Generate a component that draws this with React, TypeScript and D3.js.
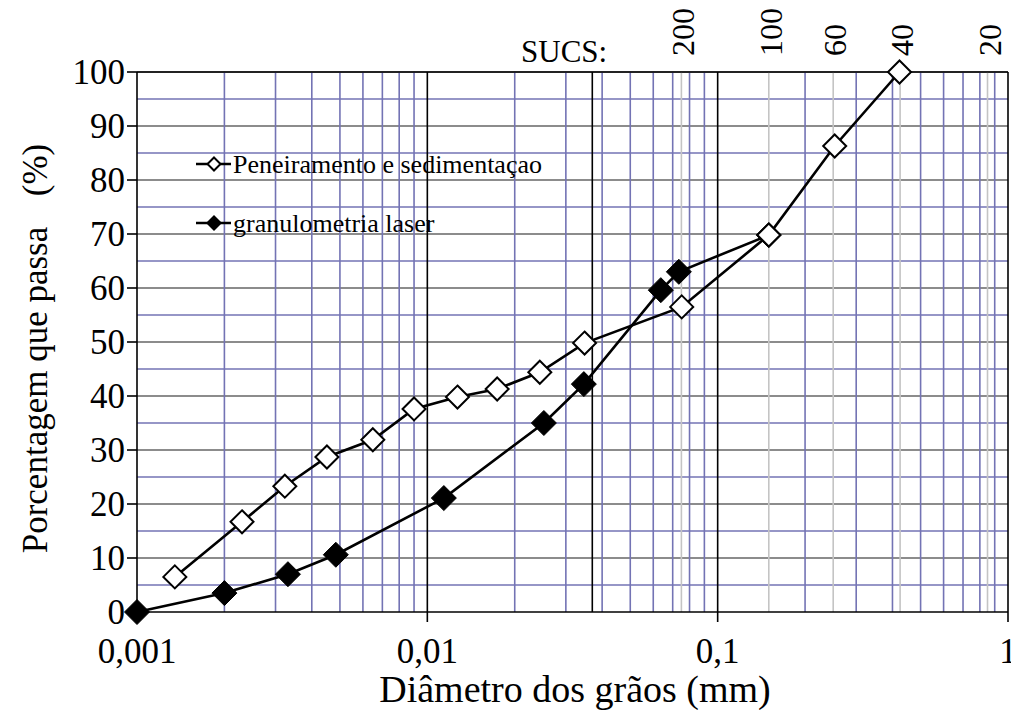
import React from "react";
import { scaleLog, scaleLinear, line, range } from "d3";

// Peneiramento e sedimentação (open diamonds)
const sievDiam = [0.00135, 0.0023, 0.00323, 0.00451, 0.00649, 0.009, 0.0127, 0.0174, 0.0244, 0.0348, 0.0752, 0.15, 0.253, 0.423];
const sievPass = [6.5, 16.7, 23.3, 28.7, 31.9, 37.6, 39.8, 41.3, 44.4, 49.8, 56.5, 69.8, 86.3, 100];

// granulometria laser (filled diamonds)
const laserDiam = [0.001, 0.002, 0.00331, 0.00484, 0.0114, 0.0252, 0.0346, 0.0637, 0.0735, 0.15];
const laserPass = [0, 3.5, 7.0, 10.6, 21.1, 35, 42.2, 59.6, 63, 69.8];

// SUCS sieves
const sieveNames = ["200", "100", "60", "40", "20"];
const sieveOpen = [0.075, 0.15, 0.25, 0.425, 0.85];

const xTicks = [0.001, 0.01, 0.1, 1];
const xTickLabels = ["0,001", "0,01", "0,1", "1"];
const yTicks = [0, 10, 20, 30, 40, 50, 60, 70, 80, 90, 100];
const boundary = [0.037];

const W = 1011;
const H = 710;
const left = 137;
const right = 1008;
const top = 72;
const bottom = 612;
const font = "'Liberation Serif', 'Times New Roman', serif";
const blue = "#7373b4";

export default function App() {
  const x = scaleLog().domain([0.001, 1]).range([left, right]);
  const y = scaleLinear().domain([0, 100]).range([bottom, top]);

  const minor: number[] = [];
  [0.001, 0.01, 0.1].forEach((d) => range(2, 10).forEach((m) => minor.push(d * m)));

  const sieveData = sievDiam.map((d, i) => ({ d, p: sievPass[i] }));
  const laserData = laserDiam.map((d, i) => ({ d, p: laserPass[i] }));
  const path = line<{ d: number; p: number }>()
    .x((v) => x(v.d))
    .y((v) => y(v.p));

  const diamond = (cx: number, cy: number, r: number) =>
    `M${cx},${cy - r}L${cx + r},${cy}L${cx},${cy + r}L${cx - r},${cy}Z`;

  return (
    <svg width={W} height={H} style={{ position: "absolute", left: 0, top: 0, background: "#fff" }}>
      {/* horizontal grid */}
      {range(5, 100, 10).map((v) => (
        <line key={"h5" + v} x1={left} x2={right} y1={y(v)} y2={y(v)} stroke={blue} strokeWidth={1.6} />
      ))}
      {yTicks.slice(1).map((v) => (
        <line key={"h10" + v} x1={left} x2={right} y1={y(v)} y2={y(v)} stroke="#666" strokeWidth={1.6} />
      ))}
      {/* vertical grid */}
      {minor.map((v) => (
        <line key={"v" + v} x1={x(v)} x2={x(v)} y1={top} y2={bottom} stroke={blue} strokeWidth={1.6} />
      ))}
      {sieveOpen.map((v) => (
        <line key={"s" + v} x1={x(v)} x2={x(v)} y1={top} y2={bottom} stroke="#c4c4c4" strokeWidth={1.6} />
      ))}
      {boundary.map((v) => (
        <line key={"b" + v} x1={x(v)} x2={x(v)} y1={top} y2={bottom} stroke="#000" strokeWidth={1.6} />
      ))}
      {xTicks.map((v) => (
        <line key={"xt" + v} x1={x(v)} x2={x(v)} y1={top} y2={bottom + 10} stroke="#000" strokeWidth={1.6} />
      ))}
      {yTicks.map((v) => (
        <line key={"yt" + v} x1={left - 10} x2={left} y1={y(v)} y2={y(v)} stroke="#000" strokeWidth={1.6} />
      ))}
      <line x1={left} x2={right} y1={top} y2={top} stroke="#000" strokeWidth={1.6} />
      <line x1={left} x2={right} y1={bottom} y2={bottom} stroke="#000" strokeWidth={1.6} />

      {/* tick labels */}
      {yTicks.map((v) => (
        <text key={"yl" + v} x={left - 12} y={y(v)} dy="0.35em" textAnchor="end" fontFamily={font} fontSize={35}>
          {v}
        </text>
      ))}
      {xTicks.map((v, i) => (
        <text key={"xl" + v} x={x(v)} y={bottom + 51} textAnchor="middle" fontFamily={font} fontSize={35}>
          {xTickLabels[i]}
        </text>
      ))}
      <text x={575} y={702} textAnchor="middle" fontFamily={font} fontSize={38}>
        Diâmetro dos grãos (mm)
      </text>
      <g transform="translate(47,390) rotate(-90)">
        <text x={0} y={0} textAnchor="middle" fontFamily={font} fontSize={35}>
          Porcentagem que passa
        </text>
      </g>
      <g transform="translate(47,170) rotate(-90)">
        <text x={0} y={0} textAnchor="middle" fontFamily={font} fontSize={35}>
          (%)
        </text>
      </g>

      {/* SUCS */}
      <text x={521} y={62} fontFamily={font} fontSize={31}>
        SUCS:
      </text>
      {sieveOpen.map((v, i) => (
        <g key={"sl" + v} transform={`translate(${x(v) + 13},56) rotate(-90)`}>
          <text x={0} y={0} fontFamily={font} fontSize={32}>
            {sieveNames[i]}
          </text>
        </g>
      ))}

      {/* series */}
      <path d={path(laserData) ?? ""} fill="none" stroke="#000" strokeWidth={2.6} />
      <path d={path(sieveData) ?? ""} fill="none" stroke="#000" strokeWidth={2.6} />
      {laserData.map((v, i) => (
        <path key={"lp" + i} d={diamond(x(v.d), y(v.p), 12.5)} fill="#000" stroke="#000" strokeWidth={1} />
      ))}
      {sieveData.map((v, i) => (
        <path key={"sp" + i} d={diamond(x(v.d), y(v.p), 11.5)} fill="#fff" stroke="#000" strokeWidth={2} />
      ))}

      {/* legend */}
      <g fontFamily={font} fontSize={26}>
        <line x1={196} x2={231} y1={164} y2={164} stroke="#000" strokeWidth={2.6} />
        <path d={diamond(214, 164, 6.5)} fill="#fff" stroke="#000" strokeWidth={2} />
        <text x={233} y={173}>Peneiramento e sedimentaçao</text>
        <line x1={196} x2={231} y1={223} y2={223} stroke="#000" strokeWidth={2.6} />
        <path d={diamond(214, 223, 8)} fill="#000" />
        <text x={233} y={232}>granulometria laser</text>
      </g>
    </svg>
  );
}
